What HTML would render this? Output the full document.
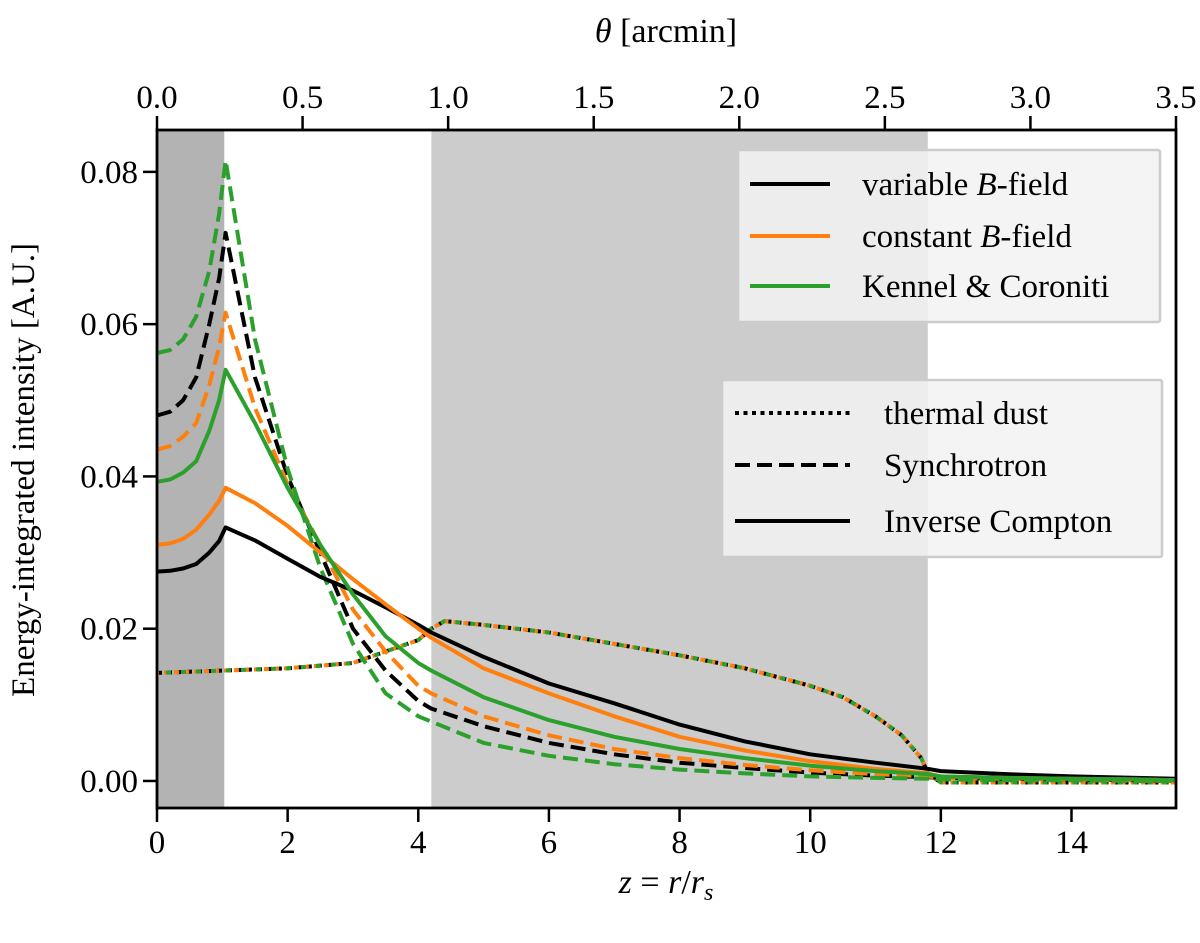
<!DOCTYPE html>
<html><head><meta charset="utf-8"><style>
body{margin:0;background:#fff}
svg text{font-family:"Liberation Serif",serif;fill:#000}
</style></head><body>
<svg id="chart" width="1200" height="938" xmlns="http://www.w3.org/2000/svg">
<g id="plot"></g>
</svg>
<script>
const zGrid=[0,0.2,0.4,0.6,0.8,0.95,1.05,1.5,2,2.5,3,3.5,4,4.2,5,6,7,8,9,10,11,11.8,12,13,14,15,15.6];
const icVariable=[0.0275,0.0276,0.0279,0.0285,0.0300,0.0315,0.0333,0.0316,0.0292,0.0268,0.0250,0.0228,0.0205,0.0195,0.0163,0.0128,0.0102,0.0074,0.0052,0.0035,0.0024,0.0016,0.0013,0.0009,0.0006,0.0004,0.0003];
const icConstant=[0.0310,0.0312,0.0318,0.0330,0.0350,0.0368,0.0385,0.0365,0.0335,0.0300,0.0265,0.0232,0.0200,0.0188,0.0148,0.0115,0.0085,0.0058,0.0040,0.0026,0.0016,0.0010,0.0006,0.0004,0.0003,0.0002,0.0001];
const icKennel=[0.0393,0.0396,0.0405,0.0420,0.0460,0.0500,0.0540,0.0470,0.0385,0.0310,0.0245,0.0190,0.0155,0.0145,0.0110,0.0080,0.0058,0.0042,0.0030,0.0020,0.0013,0.0009,0.0006,0.0004,0.0003,0.0002,0.0001];
const synVariable=[0.0480,0.0485,0.0500,0.0530,0.0600,0.0660,0.0720,0.0530,0.0400,0.0300,0.0200,0.0145,0.0105,0.0095,0.0072,0.0050,0.0035,0.0024,0.0017,0.0011,0.0007,0.0005,0.0004,0.0003,0.0002,0.0001,0.0001];
const synConstant=[0.0435,0.0440,0.0452,0.0470,0.0520,0.0570,0.0615,0.0490,0.0390,0.0310,0.0225,0.0170,0.0125,0.0115,0.0085,0.0060,0.0042,0.0030,0.0021,0.0014,0.0009,0.0006,0.0004,0.0003,0.0002,0.0001,0.0001];
const synKennel=[0.0562,0.0566,0.0580,0.0610,0.0670,0.0745,0.0815,0.0580,0.0410,0.0280,0.0180,0.0115,0.0085,0.0078,0.0050,0.0033,0.0022,0.0015,0.0010,0.0006,0.0004,0.0003,0.0002,0.0001,0.0001,0.0000,0.0000];
const dustZ=[0,1,2,3,3.5,4,4.2,4.4,5,6,7,8,9,10,10.5,11,11.4,11.7,11.8,12,13,14,15,15.6];
const dustValues=[0.0142,0.0145,0.0148,0.0155,0.0170,0.0185,0.0200,0.0210,0.0205,0.0195,0.0180,0.0165,0.0148,0.0125,0.0110,0.0085,0.0060,0.0030,0.0010,-0.0002,-0.0002,-0.0002,-0.0002,-0.0002];
const xTicks=[0,2,4,6,8,10,12,14];
const yTicks=[0,0.02,0.04,0.06,0.08];
const yTickLabels=["0.00","0.02","0.04","0.06","0.08"];
const topTicks=[0,0.5,1,1.5,2,2.5,3,3.5];
const topTickLabels=["0.0","0.5","1.0","1.5","2.0","2.5","3.0","3.5"];
const shadeDark=[0,1.03];
const shadeLight=[4.2,11.8];

const L=157,R=1176,T=130,B=808;
const zMax=15.6, yMin=-0.00355, yMax=0.0855, thetaMax=3.5;
const X=z=>L+(z/zMax)*(R-L);
const Y=v=>B-(v-yMin)/(yMax-yMin)*(B-T);
const XT=t=>L+(t/thetaMax)*(R-L);
const NS="http://www.w3.org/2000/svg";
const g=document.getElementById('plot');
function mk(tag,attrs,parent){const e=document.createElementNS(NS,tag);for(const k in attrs)e.setAttribute(k,attrs[k]);(parent||g).appendChild(e);return e;}

let r=mk('rect',{x:X(shadeDark[0]),y:T,width:X(shadeDark[1])-X(shadeDark[0]),height:B-T,fill:'#b3b3b3'});


r=mk('rect',{x:X(shadeLight[0]),y:T,width:X(shadeLight[1])-X(shadeLight[0]),height:B-T,fill:'#cccccc'});



function line(xs,ys,color,dash,name,offset){
  const d=xs.map((z,i)=>(i?'L':'M')+X(z).toFixed(1)+','+Y(ys[i]).toFixed(1)).join(' ');
  const p=mk('path',{d:d,fill:'none',stroke:color,'stroke-width':4,'stroke-dasharray':dash||'none','stroke-dashoffset':offset||0,'stroke-linejoin':'round'});
  
  
}
const K='#000',O='#ff7f0e',Gr='#2ca02c';
line(dustZ,dustValues,K,'5 5','dust-variable',0);
line(dustZ,dustValues,O,'5 5','dust-constant',3);
line(dustZ,dustValues,Gr,'5 10','dust-kennel',6);
line(zGrid,synVariable,K,'15 7','synchrotron-variable');
line(zGrid,synConstant,O,'15 7','synchrotron-constant');
line(zGrid,synKennel,Gr,'15 7','synchrotron-kennel');
line(zGrid,icVariable,K,null,'ic-variable');
line(zGrid,icConstant,O,null,'ic-constant');
line(zGrid,icKennel,Gr,null,'ic-kennel');

let f=mk('rect',{x:L,y:T,width:R-L,height:B-T,fill:'none',stroke:'#000','stroke-width':2.8});



xTicks.forEach(v=>{
  mk('line',{x1:X(v),x2:X(v),y1:B,y2:B+14,stroke:'#000','stroke-width':2.5});
  const t=mk('text',{x:X(v),y:B+45,'text-anchor':'middle','font-size':33});t.textContent=v;
  
  
});
yTicks.forEach((v,i)=>{
  mk('line',{x1:L,x2:L-14,y1:Y(v),y2:Y(v),stroke:'#000','stroke-width':2.5});
  const t=mk('text',{x:L-19,y:Y(v)+11,'text-anchor':'end','font-size':33});t.textContent=yTickLabels[i];
  
  
});
topTicks.forEach((v,i)=>{
  mk('line',{x1:XT(v),x2:XT(v),y1:T,y2:T-14,stroke:'#000','stroke-width':2.5});
  const t=mk('text',{x:XT(v),y:T-22,'text-anchor':'middle','font-size':33});t.textContent=topTickLabels[i];
  
  
});
</script>
<svg style="position:absolute;left:0;top:0" width="1200" height="938" xmlns="http://www.w3.org/2000/svg">
<text x="666" y="893" text-anchor="middle" font-size="34"><tspan font-style="italic">z</tspan> = <tspan font-style="italic">r</tspan>/<tspan font-style="italic">r</tspan><tspan font-style="italic" font-size="24" dy="7">s</tspan></text>
<text x="666" y="42" text-anchor="middle" font-size="34"><tspan font-style="italic">θ</tspan> [arcmin]</text>
<text transform="translate(34,470) rotate(-90)" text-anchor="middle" font-size="33">Energy-integrated intensity [A.U.]</text>
<g>
<rect x="738" y="150" width="422" height="172" fill="#f2f2f2" fill-opacity="0.85" stroke="#cccccc" stroke-width="2.5" rx="2"/>
<line x1="750" x2="830" y1="184" y2="184" stroke="#000" stroke-width="4"/>
<text x="862" y="195" font-size="33">variable <tspan font-style="italic">B</tspan>-field</text>
<line x1="750" x2="830" y1="236" y2="236" stroke="#ff7f0e" stroke-width="4"/>
<text x="862" y="247" font-size="33">constant <tspan font-style="italic">B</tspan>-field</text>
<line x1="750" x2="830" y1="286" y2="286" stroke="#2ca02c" stroke-width="4"/>
<text x="862" y="297" font-size="33">Kennel &amp; Coroniti</text>
</g>
<g>
<rect x="722" y="380" width="440" height="177" fill="#f2f2f2" fill-opacity="0.85" stroke="#cccccc" stroke-width="2.5" rx="2"/>
<line x1="735" x2="850" y1="413" y2="413" stroke="#000" stroke-width="4" stroke-dasharray="4 4.5"/>
<text x="884" y="424" font-size="33">thermal dust</text>
<line x1="735" x2="850" y1="465" y2="465" stroke="#000" stroke-width="4" stroke-dasharray="15 7"/>
<text x="884" y="476" font-size="33">Synchrotron</text>
<line x1="735" x2="850" y1="521" y2="521" stroke="#000" stroke-width="4"/>
<text x="884" y="532" font-size="33">Inverse Compton</text>
</g>
</svg>
</body></html>
